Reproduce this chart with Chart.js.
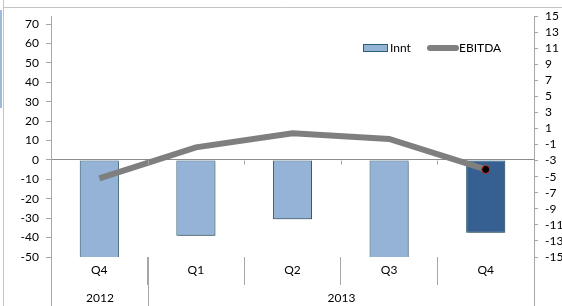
<!DOCTYPE html>
<html>
<head>
<meta charset="utf-8">
<script src="https://cdn.jsdelivr.net/npm/chart.js@4"></script>
<style>
  html, body { margin: 0; padding: 0; background: #fff; }
  #c { display: block; }
</style>
</head>
<body>
<canvas id="c" width="562" height="306"></canvas>
<script>
// Data
const QUARTERS   = ["Q4", "Q1", "Q2", "Q3", "Q4"];
const YEARS      = ["2012", "2013"];
const YEAR_SPANS = [1, 4];                       // quarters per year
const INNT       = [-52, -39, -30.6, -52, -37.5]; // left axis (bars run off the bottom for Q4'12 and Q3'13)
const EBITDA     = [-5.2, -1.35, 0.4, -0.3, -4.1]; // right axis
const LEFT_TICKS  = [-50, -40, -30, -20, -10, 0, 10, 20, 30, 40, 50, 60, 70];
const RIGHT_TICKS = [-15, -13, -11, -9, -7, -5, -3, -1, 1, 3, 5, 7, 9, 11, 13, 15];

const FONT = "Lato, 'Liberation Sans', sans-serif";
const AXIS_GREY = "#A6A6A6";
const ZERO_GREY = "#8C8C8C";
const BAR_LIGHT = "#95B3D7";
const BAR_DARK  = "#376092";
const BAR_EDGE  = "#2C5E77";
const LINE_GREY = "#7F7F7F";

// Frame, zero-line ticks, long separators, year row and legend
const decor = {
  id: "decor",
  beforeDraw(chart) {
    const c = chart.ctx;
    c.save();
    c.fillStyle = "#9DB9DC";
    c.fillRect(0, 10, 2, 98);
    c.strokeStyle = "#C4C4C4";
    c.lineWidth = 1;
    c.beginPath();
    c.moveTo(3.5, 0); c.lineTo(3.5, 306);
    c.moveTo(3, 7.5); c.lineTo(562, 7.5);
    c.stroke();
    c.restore();
  },
  afterDraw(chart) {
    const c = chart.ctx;
    const x = chart.scales.x, y = chart.scales.y;
    const area = chart.chartArea;
    const half = (x.getPixelForValue(1) - x.getPixelForValue(0)) / 2;
    const edge = i => Math.round(x.getPixelForValue(0) - half + i * half * 2) + 0.5;
    const zero = Math.round(y.getPixelForValue(0)) + 0.5;

    c.save();
    c.strokeStyle = AXIS_GREY;
    c.lineWidth = 1;
    c.beginPath();
    // small ticks under the zero line
    for (let i = 1; i < QUARTERS.length; i++) {
      c.moveTo(edge(i), zero); c.lineTo(edge(i), zero + 4);
    }
    // year separators down to the bottom
    let acc = 0;
    const bounds = [0];
    YEAR_SPANS.forEach(n => { acc += n; bounds.push(acc); });
    bounds.forEach(b => { c.moveTo(edge(b), area.bottom); c.lineTo(edge(b), 306); });
    c.stroke();

    // year labels
    c.fillStyle = "#000";
    c.font = "12px " + FONT;
    c.textAlign = "center";
    c.textBaseline = "middle";
    YEARS.forEach((yr, i) => {
      const mid = (edge(bounds[i]) + edge(bounds[i + 1])) / 2;
      c.fillText(yr, mid, 298);
    });

    // legend
    c.fillStyle = BAR_LIGHT;
    c.fillRect(363, 44, 24, 7);
    c.strokeStyle = BAR_EDGE;
    c.strokeRect(363.5, 44.5, 24, 7);
    c.fillStyle = "#000";
    c.textAlign = "left";
    c.fillText("Innt", 390, 48);
    c.strokeStyle = LINE_GREY;
    c.lineWidth = 6;
    c.lineCap = "round";
    c.beginPath();
    c.moveTo(430, 48); c.lineTo(456, 48);
    c.stroke();
    c.fillText("EBITDA", 459, 48);
    c.restore();
  }
};

// soft shadow under the bars
const barShadow = {
  id: "barShadow",
  beforeDatasetDraw(chart, args) {
    if (args.index !== 1) return;
    chart.ctx.save();
    chart.ctx.shadowColor = "rgba(0,0,0,0.3)";
    chart.ctx.shadowBlur = 3;
    chart.ctx.shadowOffsetY = 2;
    chart.ctx.shadowOffsetX = 1;
  },
  afterDatasetDraw(chart, args) {
    if (args.index !== 1) return;
    chart.ctx.restore();
  }
};

new Chart(document.getElementById("c"), {
  data: {
    labels: QUARTERS,
    datasets: [
      {
        type: "line",
        label: "EBITDA",
        data: EBITDA,
        yAxisID: "y2",
        borderColor: LINE_GREY,
        borderWidth: 6,
        tension: 0,
        pointRadius: EBITDA.map((v, i) => i === EBITDA.length - 1 ? 4 : 0),
        pointBackgroundColor: "#000",
        pointBorderColor: "#C0392B",
        pointBorderWidth: 1,
        order: 0,
      },
      {
        type: "bar",
        label: "Innt",
        data: INNT,
        yAxisID: "y",
        backgroundColor: INNT.map((v, i) => i === INNT.length - 1 ? BAR_DARK : BAR_LIGHT),
        borderColor: BAR_EDGE,
        borderWidth: 1,
        borderSkipped: false,
        categoryPercentage: 1,
        barPercentage: 0.405,
        order: 1,
      },
    ],
  },
  options: {
    responsive: false,
    animation: false,
    layout: { padding: { top: 16, left: 0, right: 0, bottom: 0 } },
    plugins: { legend: { display: false }, tooltip: { enabled: false } },
    scales: {
      x: {
        type: "category",
        position: "bottom",
        offset: true,
        grid: {
          offset: true,
          drawOnChartArea: false,
          color: AXIS_GREY,
          tickLength: 28,
        },
        border: { display: false },
        ticks: {
          font: { family: FONT, size: 12 },
          color: "#000",
          padding: -22,
          maxRotation: 0,
        },
        afterFit(s) { s.height = 49; },
      },
      y: {
        position: "left",
        min: -50,
        max: 74.2,
        afterBuildTicks(s) { s.ticks = LEFT_TICKS.map(v => ({ value: v })); },
        grid: {
          color: ctx => ctx.tick && ctx.tick.value === 0 ? ZERO_GREY : "transparent",
          tickColor: AXIS_GREY,
          tickLength: 5,
        },
        border: { display: true, color: AXIS_GREY },
        ticks: {
          font: { family: FONT, size: 12 },
          color: "#000",
          padding: 7,
          autoSkip: false,
        },
        afterFit(s) { s.width = 51; },
      },
      y2: {
        position: "right",
        min: -15,
        max: 15,
        afterBuildTicks(s) { s.ticks = RIGHT_TICKS.map(v => ({ value: v })); },
        grid: {
          drawOnChartArea: false,
          color: AXIS_GREY,
          tickLength: 4,
        },
        border: { display: true, color: AXIS_GREY },
        ticks: {
          font: { family: FONT, size: 12 },
          color: "#000",
          padding: 7,
          autoSkip: false,
        },
        afterFit(s) { s.width = 28; },
      },
    },
  },
  plugins: [decor, barShadow],
});
</script>
</body>
</html>
